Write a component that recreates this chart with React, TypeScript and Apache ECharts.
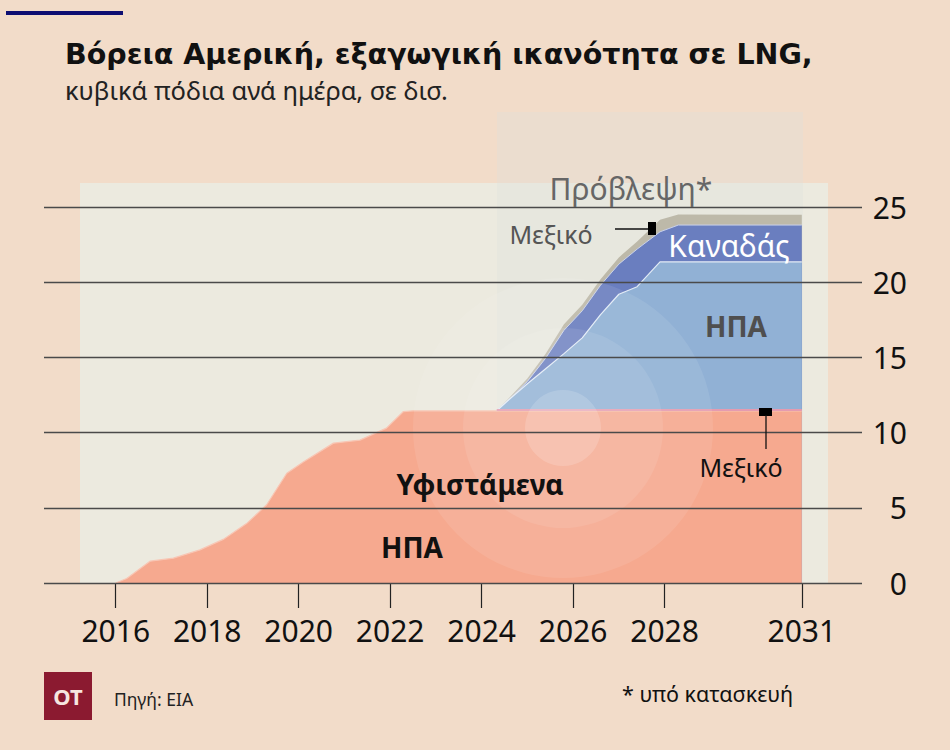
import React, { useEffect, useRef } from "react";
import * as echarts from "echarts";

// ---- Data (bcf/d) ----
const existingYears = [2016, 2016.24, 2016.75, 2017.26, 2017.84, 2018.35, 2018.86, 2019.3, 2019.74, 2020.1, 2020.76, 2021.34, 2021.92, 2022.29, 2022.5, 2031];
const existingUS = [0, 0.3, 1.45, 1.65, 2.2, 2.9, 3.95, 5.2, 7.3, 8.05, 9.3, 9.5, 10.3, 11.4, 11.45, 11.45];

const forecastYears = [2024.33, 2024.6, 2025.0, 2025.4, 2025.8, 2026.2, 2026.6, 2027.0, 2027.4, 2027.9, 2028.3, 2031];
const usForecast = [0, 0.75, 1.8, 2.8, 3.8, 4.85, 6.4, 7.75, 8.25, 9.9, 9.9, 9.9];
const canadaForecast = [0, 0, 0.15, 0.7, 1.55, 1.8, 1.95, 2.0, 2.5, 2.0, 2.45, 2.45];
const mexicoForecast = [0, 0.1, 0.2, 0.3, 0.4, 0.4, 0.4, 0.45, 0.5, 0.8, 0.7, 0.68];

const mexicoExistingYears = [2024.33, 2031];
const mexicoExisting = [0.06, 0.06];

const xTickYears = [2016, 2018, 2020, 2022, 2024, 2026, 2028, 2031];
const yTicks = [0, 5, 10, 15, 20, 25];

const FONT = "Noto Sans";
const TITLE_FONT = "DejaVu Sans";

export default function App() {
  const ref = useRef<HTMLDivElement>(null);

  useEffect(() => {
    const chart = echarts.init(ref.current!, null, { renderer: "svg" });
    const base = existingUS[existingUS.length - 1];
    const usTop = forecastYears.map((y, i) => [y, base + usForecast[i]]);
    const canTop = forecastYears.map((y, i) => [y, base + usForecast[i] + canadaForecast[i]]);
    const mexTop = forecastYears.map((y, i) => [y, base + usForecast[i] + canadaForecast[i] + mexicoForecast[i]]);
    const existing = existingYears.map((y, i) => [y, existingUS[i]]);
    const mexExist = mexicoExistingYears.map((y, i) => [y, base + mexicoExisting[i]]);

    const txt = (text: string, x: number, y: number, size: number, color: string, weight: any = "normal", align: any = "center", family = FONT, z = 20) => ({
      type: "text",
      x,
      y,
      z,
      style: { text, fontSize: size, fill: color, fontWeight: weight, fontFamily: family, align, verticalAlign: "middle" },
    });

    const option: any = {
      animation: false,
      backgroundColor: "#f2dcc9",
      textStyle: { fontFamily: FONT },
      grid: { left: 44, right: 88, top: 207, bottom: 167, containLabel: false },
      xAxis: {
        type: "value",
        min: 2014.432,
        max: 2032.316,
        axisLine: { show: false },
        splitLine: { show: false },
        axisTick: { show: true, customValues: xTickYears, length: 25, lineStyle: { color: "#222", width: 1.2 } },
        axisLabel: { customValues: xTickYears, margin: 32, fontSize: 30, color: "#111", fontFamily: FONT, formatter: (v: number) => String(Math.round(v)) },
      },
      yAxis: {
        type: "value",
        position: "right",
        min: 0,
        max: 25,
        interval: 5,
        z: 6,
        axisLine: { show: false },
        axisTick: { show: false },
        splitLine: { show: true, lineStyle: { color: "#4a4a4a", width: 1.3 } },
        axisLabel: { margin: 45, align: "right", fontSize: 30, color: "#111", fontFamily: FONT, formatter: (v: number) => (yTicks.includes(v) ? String(v) : "") },
      },
      series: [
        {
          name: "Μεξικό (πρόβλεψη)",
          type: "line",
          data: mexTop,
          symbol: "none",
          lineStyle: { width: 0 },
          areaStyle: { color: "#bdb9a9", opacity: 1 },
        },
        {
          name: "Καναδάς",
          type: "line",
          data: canTop,
          symbol: "none",
          lineStyle: { width: 1, color: "#c9d1ea" },
          areaStyle: { color: "#6a7ebf", opacity: 1 },
        },
        {
          name: "ΗΠΑ (πρόβλεψη)",
          type: "line",
          data: usTop,
          symbol: "none",
          lineStyle: { width: 1.2, color: "#e3ecf6" },
          areaStyle: { color: "#91b1d5", opacity: 1 },
        },
        {
          name: "ΗΠΑ (υφιστάμενα)",
          type: "line",
          data: existing,
          symbol: "none",
          lineStyle: { width: 1.2, color: "#f8c6b4" },
          areaStyle: { color: "#f6a98f", opacity: 1 },
        },
        {
          name: "Μεξικό (υφιστάμενα)",
          type: "line",
          data: mexExist,
          symbol: "none",
          lineStyle: { width: 2, color: "#e49bb0" },
        },
      ],
      graphic: [
        // backgrounds
        { type: "rect", z: -10, shape: { x: 80, y: 183, width: 748, height: 400 }, style: { fill: "#eceadf" } },
        { type: "rect", z: -9, shape: { x: 497, y: 112, width: 306, height: 471 }, style: { fill: "rgba(218,226,222,0.3)" } },
        // top rule
        { type: "rect", z: 20, shape: { x: 6, y: 11, width: 117, height: 4 }, style: { fill: "#0e0e72" } },
        // titles
        txt("Βόρεια Αμερική, εξαγωγική ικανότητα σε LNG,", 65, 54, 28.5, "#111", "bold", "left", TITLE_FONT),
        txt("κυβικά πόδια ανά ημέρα, σε δισ.", 65, 90, 25.5, "#222", "normal", "left", FONT),
        // glow
        { type: "circle", z: 4, shape: { cx: 563, cy: 428, r: 150 }, style: { fill: "rgba(255,255,255,0.09)" } },
        { type: "circle", z: 4, shape: { cx: 563, cy: 428, r: 100 }, style: { fill: "rgba(255,255,255,0.09)" } },
        { type: "circle", z: 4, shape: { cx: 563, cy: 428, r: 38 }, style: { fill: "rgba(255,255,255,0.16)" } },
        // annotations
        txt("Πρόβλεψη*", 631, 188, 30, "#666"),
        txt("Μεξικό", 551, 234, 25, "#555"),
        { type: "line", z: 20, shape: { x1: 615, y1: 229, x2: 649, y2: 229 }, style: { stroke: "#111", lineWidth: 1.3 } },
        { type: "rect", z: 20, shape: { x: 648, y: 222, width: 8, height: 13 }, style: { fill: "#000" } },
        txt("Καναδάς", 729, 245, 30, "#ffffff"),
        txt("ΗΠΑ", 736, 326, 28, "#4f4f4f", "bold"),
        txt("Υφιστάμενα", 480, 484, 28, "#111", "bold"),
        txt("ΗΠΑ", 412, 547, 28, "#111", "bold"),
        { type: "rect", z: 20, shape: { x: 759, y: 408, width: 13, height: 8 }, style: { fill: "#000" } },
        { type: "line", z: 20, shape: { x1: 766, y1: 415, x2: 766, y2: 449 }, style: { stroke: "#111", lineWidth: 1.3 } },
        txt("Μεξικό", 741, 467, 25, "#111"),
        // footer
        { type: "rect", z: 20, shape: { x: 44, y: 672, width: 48, height: 48 }, style: { fill: "#8b1a30" } },
        txt("OT", 68, 696, 22, "#f6e6e0", "bold"),
        txt("Πηγή: ΕΙΑ", 114, 699, 17.5, "#222", "normal", "left"),
        txt("* υπό κατασκευή", 622, 693, 21.5, "#111", "normal", "left"),
      ],
    };

    chart.setOption(option);
    return () => chart.dispose();
  }, []);

  return <div ref={ref} style={{ position: "absolute", left: 0, top: 0, width: 950, height: 750 }} />;
}
